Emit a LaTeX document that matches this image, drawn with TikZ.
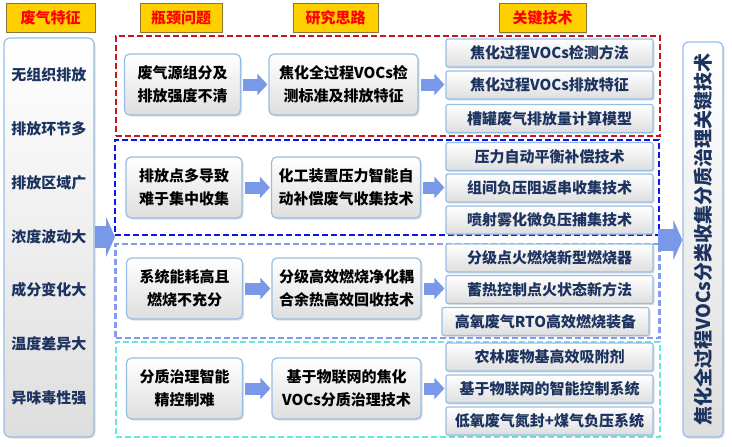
\documentclass[tikz,border=0pt]{standalone}
\usepackage{fontspec}
\setmainfont{Noto Sans CJK SC}
\usepackage{xcolor}
\usepackage{tikz}
\usetikzlibrary{arrows.meta, positioning, shadows}

\definecolor{gold}{RGB}{255,208,0}
\definecolor{headline}{RGB}{140,118,50}
\definecolor{navy}{RGB}{28,50,95}
\definecolor{boxline}{RGB}{150,190,228}
\definecolor{boxgray}{RGB}{222,222,222}
\definecolor{arrowblue}{RGB}{122,152,232}
\definecolor{grpred}{RGB}{200,20,30}
\definecolor{grpblue}{RGB}{10,20,235}
\definecolor{grplight}{RGB}{130,155,240}
\definecolor{grpcyan}{RGB}{100,235,220}

\begin{document}
\begin{tikzpicture}[x=1pt, y=-1pt, thick, >=Stealth,
    font=\fontsize{15}{23}\selectfont\bfseries,
    head/.style={draw=headline, fill=gold, text=red, minimum height=29pt, inner sep=0pt,
      drop shadow={shadow xshift=1pt, shadow yshift=-1pt, opacity=.25}},
    box/.style={draw=boxline, line width=1.2pt, rounded corners=5pt, top color=white, bottom color=boxgray,
      inner sep=0pt, align=center, drop shadow={shadow xshift=1.5pt, shadow yshift=-1.5pt, opacity=.25}},
    keybox/.style={box, rounded corners=2pt, minimum width=207pt, minimum height=28pt, text=navy},
    grp/.style={line width=2.4pt, dash pattern=on 6pt off 3pt, minimum width=544pt, inner sep=0pt},
    arr/.style={draw=arrowblue, line width=12pt, -{Triangle[length=10pt, width=21pt]}, shorten <=2pt, shorten >=1pt},
    bigarr/.style={draw=arrowblue, line width=22pt, -{Triangle[length=9pt, width=40pt]}}]
  \useasboundingbox (0,0) rectangle (732,447);

  % column heads
  \node[head, minimum width=89pt] (hFeat) at (50.5,17.5) {废气特征};
  \node[head, minimum width=82pt] (hNeck) at (181,17.5) {瓶颈问题};
  \node[head, minimum width=85pt] (hIdea) at (335.5,17.5) {研究思路};
  \node[head, minimum width=87pt] (hKey) at (542.5,18) {关键技术};

  % dashed groups
  \node[grp, draw=grpred, minimum height=100pt] (g1) at (388,86) {};
  \node[grp, draw=grpblue, minimum height=95pt] (g2) at (387,187.5) {};
  \node[grp, draw=grplight, minimum height=94pt] (g3) at (387.5,291) {};
  \node[grp, draw=grpcyan, minimum height=95pt] (g4) at (388,389.5) {};

  % features column
  \node[box, rounded corners=6pt, minimum width=90pt, minimum height=399pt] (feat) at (49,237.5) {};
  \foreach \txt [count=\i] in {无组织排放, 排放环节多, 排放区域广, 浓度波动大, 成分变化大, 温度差异大, 异味毒性强}
    \node[text=navy] (f\i) at (49, 75+53.8*\i-53.8) {\txt};

  % bottleneck problems
  \node[box, minimum width=116pt, minimum height=61pt] (p1) at (182.5,84.5) {废气源组分及\\排放强度不清};
  \node[box, minimum width=116pt, minimum height=61pt] (p2) at (184,187.5) {排放点多导致\\难于集中收集};
  \node[box, minimum width=116pt, minimum height=61pt] (p3) at (184.5,288.5) {系统能耗高且\\燃烧不充分};
  \node[box, minimum width=116pt, minimum height=61pt] (p4) at (184.5,388.5) {分质治理智能\\精控制难};

  % research ideas
  \node[box, minimum width=149pt, minimum height=61pt] (r1) at (343.5,84.5) {焦化全过程VOCs检\\测标准及排放特征};
  \node[box, minimum width=149pt, minimum height=61pt] (r2) at (346,187.5) {化工装置压力智能自\\动补偿废气收集技术};
  \node[box, minimum width=149pt, minimum height=61pt] (r3) at (346.5,288.5) {分级高效燃烧净化耦\\合余热高效回收技术};
  \node[box, minimum width=149pt, minimum height=61pt] (r4) at (346.5,388.5) {基于物联网的焦化\\VOCs分质治理技术};

  % key techniques
  \node[keybox] (k1) at (549.5,53) {焦化过程VOCs检测方法};
  \node[keybox] (k2) at (549.5,85) {焦化过程VOCs排放特征};
  \node[keybox] (k3) at (549.5,118.5) {槽罐废气排放量计算模型};
  \node[keybox] (k4) at (549.5,156.5) {压力自动平衡补偿技术};
  \node[keybox] (k5) at (549.5,188) {组间负压阻返串收集技术};
  \node[keybox] (k6) at (549.5,220) {喷射雾化微负压捕集技术};
  \node[keybox] (k7) at (549.5,258) {分级点火燃烧新型燃烧器};
  \node[keybox] (k8) at (549.5,289.5) {蓄热控制点火状态新方法};
  \node[keybox] (k9) at (545.5,321.5) {高氧废气RTO高效燃烧装备};
  \node[keybox] (k10) at (549.5,357) {农林废物基高效吸附剂};
  \node[keybox] (k11) at (549.5,389) {基于物联网的智能控制系统};
  \node[keybox] (k12) at (549.5,421) {低氧废气氮封+煤气负压系统};

  % final result
  \node[box, rotate=90, minimum width=395pt, minimum height=40pt, text=navy,
    font=\fontsize{19}{22}\selectfont\bfseries] (fin) at (703,239.5) {焦化全过程VOCs分类收集分质治理关键技术};

  % arrows between the steps
  \foreach \i/\k in {1/2, 2/5, 3/8, 4/11} {
    \draw[arr] (p\i) -- (r\i);
    \draw[arr] (r\i) -- (r\i -| k\k.west);
  }

  % into the groups and out to the result
  \coordinate (inL) at (115,237);
  \coordinate (outR) at (658,240);
  \draw[bigarr] (feat.east |- inL) -- (inL);
  \draw[bigarr] (outR) -- (outR -| fin.north);
\end{tikzpicture}
\end{document}
